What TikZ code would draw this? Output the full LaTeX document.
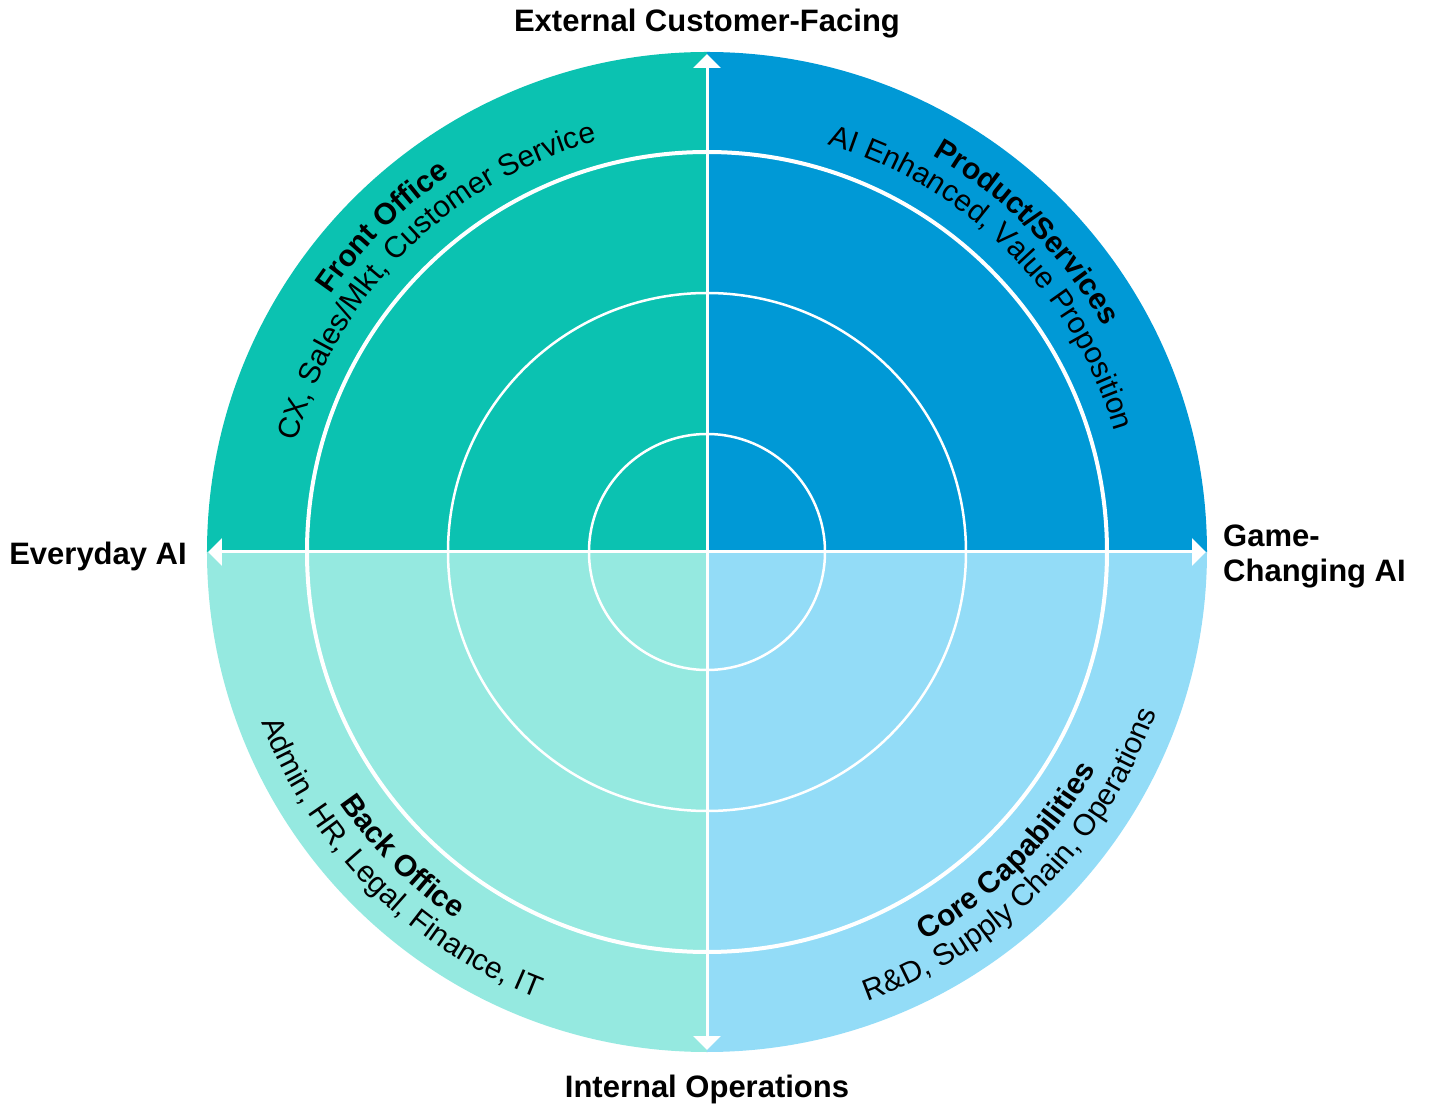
\documentclass[tikz,border=0pt]{standalone}
\usepackage{fontspec}
\setmainfont{Liberation Sans}
\usetikzlibrary{arrows.meta,decorations.text}
\definecolor{qtl}{HTML}{0BC2B1}
\definecolor{qtr}{HTML}{0099D6}
\definecolor{qbl}{HTML}{95E9E0}
\definecolor{qbr}{HTML}{93DCF7}
\newcommand{\hdfont}{\bfseries\fontsize{31}{35}\selectfont}
\newcommand{\arcbf}{\bfseries\fontsize{30}{30}\selectfont}
\newcommand{\arcrm}{\fontsize{30}{30}\selectfont}
\begin{document}
\begin{tikzpicture}[x=1pt,y=1pt,
  bigring/.style={white, line width=4pt},
  smallring/.style={white, line width=2.5pt},
  axisline/.style={white, line width=3pt,
    {Triangle[width=27pt,length=14pt]}-{Triangle[width=27pt,length=14pt]}},
  heading/.style={font=\hdfont, inner sep=0pt, text=black},
  arctext/.style={decorate, decoration={text along path, text align=center, text={#1}}}
]
\useasboundingbox (-707,-555) rectangle (733,552);
\coordinate (O) at (0,0);
% quadrants
\fill[qtl] (O) -- (180:500pt) arc[start angle=180, end angle=90, radius=500pt] -- cycle;
\fill[qtr] (O) -- (90:500pt) arc[start angle=90, end angle=0, radius=500pt] -- cycle;
\fill[qbl] (O) -- (180:500pt) arc[start angle=180, end angle=270, radius=500pt] -- cycle;
\fill[qbr] (O) -- (270:500pt) arc[start angle=270, end angle=360, radius=500pt] -- cycle;
% rings
\draw[bigring] (O) circle[radius=400pt];
\draw[smallring] (O) circle[radius=259pt];
\draw[smallring] (O) circle[radius=118pt];
% axes
\coordinate (N) at (90:498pt);
\coordinate (S) at (270:498pt);
\coordinate (W) at (180:499pt);
\coordinate (E) at (0:499pt);
\draw[axisline] (W) -- (E);
\draw[axisline] (S) -- (N);
% curved texts
\path[arctext={|\arcrm|CX, Sales/Mkt, Customer Service}] (180:425pt) arc[start angle=180, end angle=90, radius=425pt];
\path[arctext={|\arcbf|Front Office}] (180:456pt) arc[start angle=180, end angle=90, radius=456pt];
\path[arctext={|\arcrm|AI Enhanced, Value Proposition}] (90:425pt) arc[start angle=90, end angle=0, radius=425pt];
\path[arctext={|\arcbf|Product/Services}] (90:456pt) arc[start angle=90, end angle=0, radius=456pt];
\path[arctext={|\arcbf|Back Office}] (180:445pt) arc[start angle=180, end angle=270, radius=445pt];
\path[arctext={|\arcrm|Admin, HR, Legal, Finance, IT}] (180:477pt) arc[start angle=180, end angle=270, radius=477pt];
\path[arctext={|\arcbf|Core Capabilities}] (270:445pt) arc[start angle=270, end angle=360, radius=445pt];
\path[arctext={|\arcrm|R{\&}D, Supply Chain, Operations}] (270:477pt) arc[start angle=270, end angle=360, radius=477pt];
% headings
\node[heading, anchor=base] (ext) at (0,520) {External Customer-Facing};
\node[heading, anchor=base] (int) at (0,-545) {Internal Operations};
\node[heading, anchor=base east] (every) at (-520,-13) {Everyday AI};
\node[heading, anchor=base west, align=left] (game) at (516,-30) {Game-\\Changing AI};
\end{tikzpicture}
\end{document}
